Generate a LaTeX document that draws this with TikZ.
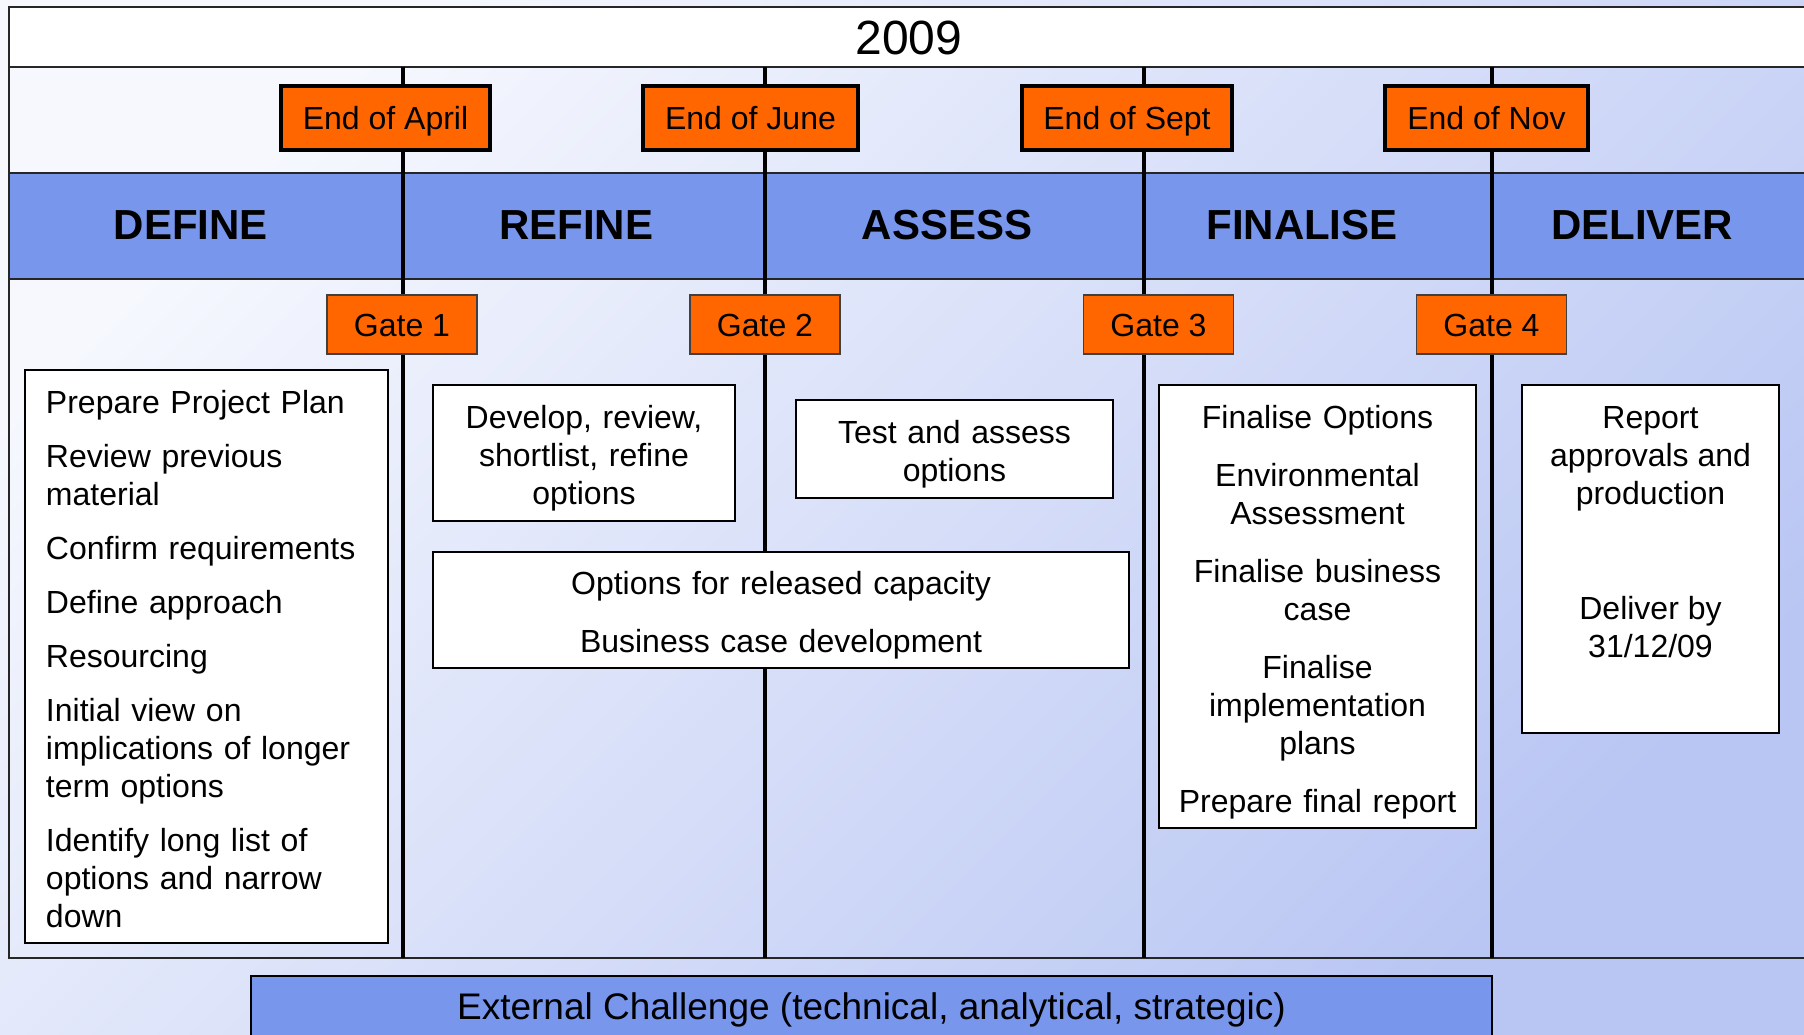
\documentclass[tikz,border=0pt]{standalone}
\usepackage{fontspec}
\setmainfont{Liberation Sans}
\definecolor{phaseblue}{HTML}{7896EC}
\definecolor{gateorange}{HTML}{FF6600}
\definecolor{bglight}{HTML}{F6F8FE}
\definecolor{bgdark}{HTML}{B9C6F3}
\begin{document}
\begin{tikzpicture}[x=0.5pt,y=-0.5pt]
\tikzset{every node/.style={inner sep=0pt,font=\fontsize{16}{19}\selectfont},
  monthbox/.style={draw=black,line width=2pt,fill=gateorange,minimum height=32pt,text height=11.8pt,text depth=0pt},
  gatebox/.style={draw=black!75,line width=0.7pt,fill=gateorange,minimum width=75pt,minimum height=29.5pt,text height=11.8pt,text depth=0pt},
  taskbox/.style={draw=black,line width=0.85pt,fill=white,align=center,
    execute at begin node={\rule{0pt}{17pt}},execute at end node={\rule[-3.5pt]{0pt}{3.5pt}}},
  phase/.style={font=\fontsize{21}{25}\selectfont\bfseries}}
    \useasboundingbox (0,0) rectangle (1804,1034);
    \clip (0,0) rectangle (1804,1034);
    \shade[top color=bglight,bottom color=bgdark,shading angle=45] (0,0) rectangle (1804,1034);

    % year row and phase band
    \fill[white] (9,7) rectangle (1810,67);
    \fill[phaseblue] (9,173) rectangle (1810,279);
    \draw[line width=1pt,black!85] (1810,7) -- (9,7) -- (9,958) -- (1810,958);
    \draw[line width=1pt,black!85] (9,67) -- (1810,67) (9,173) -- (1810,173) (9,279) -- (1810,279);
    \node (year) at (909,38) {\fontsize{24}{28}\selectfont 2009};

    \coordinate (top1) at (403,67);  \coordinate (bot1) at (403,958);
    \coordinate (top2) at (765,67);  \coordinate (bot2) at (765,958);
    \coordinate (top3) at (1144,67); \coordinate (bot3) at (1144,958);
    \coordinate (top4) at (1492,67); \coordinate (bot4) at (1492,958);
    \draw[line width=1.75pt] (top1) -- (bot1) (top2) -- (bot2) (top3) -- (bot3) (top4) -- (bot4);

    \node[phase] (define) at (191,225) {DEFINE};
    \node[phase] (refine) at (576,225) {REFINE};
    \node[phase] (assess) at (947,225) {ASSESS};
    \node[phase] (finalise) at (1302,225) {FINALISE};
    \node[phase] (deliver) at (1642,225) {DELIVER};

    \node[monthbox,minimum width=104.5pt] (april) at (385.5,118) {End of April};
    \node[monthbox,minimum width=107.5pt] (june) at (750.5,118) {End of June};
    \node[monthbox,minimum width=105pt] (sept) at (1127,118) {End of Sept};
    \node[monthbox,minimum width=101.5pt] (nov) at (1486.5,118) {End of Nov};

    \node[gatebox] (gate1) at (402,324.5) {Gate 1};
    \node[gatebox] (gate2) at (765,324.5) {Gate 2};
    \node[gatebox] (gate3) at (1158.5,324.5) {Gate 3};
    \node[gatebox] (gate4) at (1491.5,324.5) {Gate 4};

    % task boxes
    \node[taskbox,align=left,text width=160.5pt,minimum width=181.5pt,minimum height=286.5pt] (definetasks) at (206.5,656.5)
      {Prepare Project Plan\\[8pt]Review previous\\material\\[8pt]Confirm requirements\\[8pt]Define approach\\[8pt]Resourcing\\[8pt]Initial view on\\implications of longer\\term options\\[8pt]Identify long list of\\options and narrow\\down};
    \node[taskbox,text width=145pt,minimum width=151pt,minimum height=68pt] (develop) at (584,453) {Develop, review,\\shortlist, refine\\options};
    \node[taskbox,text width=150pt,minimum width=158.5pt,minimum height=49pt] (test) at (954.5,449) {Test and assess\\options};
    \node[taskbox,text width=340pt,minimum width=348pt,minimum height=58pt] (options) at (781,610) {Options for released capacity\\[10pt]Business case development};
    \node[taskbox,text width=150pt,minimum width=158.5pt,minimum height=221.5pt] (finalisetasks) at (1317.5,606.5)
      {Finalise Options\\[10pt]Environmental\\Assessment\\[10pt]Finalise business\\case\\[10pt]Finalise\\implementation\\plans\\[10pt]Prepare final report};
    \node[taskbox,minimum width=128.5pt,minimum height=174pt] (report) at (1650.5,559) {};
    \node[anchor=north,align=center] (reporttxt) at (1650.5,406) {Report\\approvals and\\production\\[38.5pt]Deliver by\\31/12/09};

    \node[draw=black,line width=1pt,fill=phaseblue,minimum width=620.5pt,minimum height=34pt,font=\fontsize{18.5}{22}\selectfont] (challenge) at (871.5,1010) {External Challenge (technical, analytical, strategic)};
\end{tikzpicture}
\end{document}
